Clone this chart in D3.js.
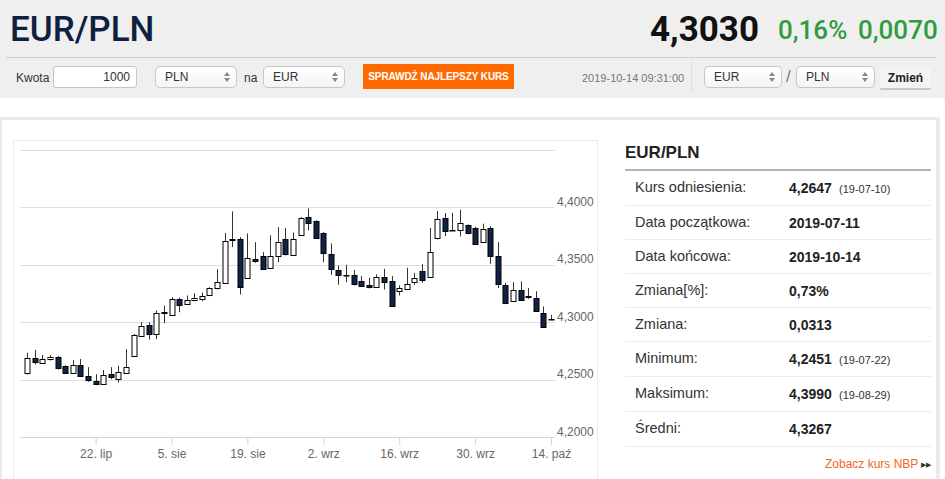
<!DOCTYPE html>
<html>
<head>
<meta charset="utf-8">
<script src="https://cdn.jsdelivr.net/npm/d3@7"></script>
<style>
body { margin: 0; width: 945px; height: 479px; overflow: hidden; background: #fff; position: relative; font-family: Arial, "Liberation Sans", sans-serif; color: #333; }
.abs { position: absolute; }
#head { left: 0; top: 0; width: 945px; height: 98px; background: #efefef; }
#title { left: 10px; top: 9px; font-family: Roboto, sans-serif; font-weight: 500; font-size: 35px; color: #0d213f; }
#rate { left: 650px; top: 9px; font-family: Roboto, sans-serif; font-weight: 700; font-size: 35px; color: #111; }
.chg { top: 15px; font-family: Roboto, sans-serif; font-weight: 500; font-size: 26px; color: #2f9c3d; }
#sep { left: 6px; top: 57px; width: 931px; height: 1px; background: #d0d0d0; }
.lbl { font-size: 12px; color: #333; top: 71px; }
.box { top: 66px; height: 22px; border: 1px solid #c6c6c6; border-radius: 5px; background: linear-gradient(#fff, #f4f4f4); box-sizing: border-box; font-size: 12px; line-height: 20px; padding-left: 9px; color: #333; }
.box .ar { position: absolute; right: 6px; top: 5px; width: 0; height: 0; border-left: 3px solid transparent; border-right: 3px solid transparent; border-bottom: 4px solid #888; }
.box .ar2 { position: absolute; right: 6px; top: 11px; width: 0; height: 0; border-left: 3px solid transparent; border-right: 3px solid transparent; border-top: 4px solid #888; }
#kw { left: 53px; width: 84px; border-radius: 3px; background: #fff; text-align: right; padding-right: 6px; }
#btn { left: 363px; top: 64px; width: 151px; height: 25px; background: #ff6a00; color: #fff; font-weight: bold; font-size: 10px; line-height: 25px; text-align: center; letter-spacing: -0.1px; }
#ts { left: 582px; top: 72px; font-size: 11px; color: #777; }
#vsep { left: 691px; top: 62px; width: 1px; height: 31px; background: #dcdcdc; }
#zm { left: 880px; top: 67px; width: 51px; height: 23px; background: #f4f4f4; border-bottom: 2px solid #c8c8c8; box-sizing: border-box; border-radius: 2px; font-weight: bold; font-size: 12px; line-height: 22px; text-align: center; color: #222; }
#panel { left: 0; top: 117px; width: 940px; height: 380px; border-top: 3px solid #ebebeb; border-left: 2px solid #ebebeb; border-right: 4px solid #ebebeb; box-sizing: border-box; }
#cbox { left: 13px; top: 140px; width: 585px; height: 360px; border: 1px solid #ececec; box-sizing: border-box; }
#th { left: 625px; top: 143px; font-size: 17px; font-weight: bold; color: #222; }
#thr { left: 625px; top: 169px; width: 306px; height: 2px; background: #b4b4b4; }
.row { left: 625px; width: 306px; height: 1px; background: #ececec; }
.tl { left: 635px; font-size: 14.5px; color: #333; }
.tv { left: 789px; font-size: 14px; font-weight: bold; color: #222; }
.td { left: 839px; font-size: 11px; color: #333; }
#nbp { left: 825px; top: 457px; font-size: 12px; color: #f26522; }
svg { position: absolute; left: 0; top: 0; }
</style>
</head>
<body>
<div id="head" class="abs"></div>
<div id="title" class="abs">EUR/PLN</div>
<div id="rate" class="abs">4,3030</div>
<div class="abs chg" style="left:778px">0,16%</div>
<div class="abs chg" style="left:858px">0,0070</div>
<div id="sep" class="abs"></div>

<div class="abs lbl" style="left:16px">Kwota</div>
<div id="kw" class="abs box">1000</div>
<div class="abs box" style="left:155px;width:82px">PLN<span class="ar"></span><span class="ar2"></span></div>
<div class="abs lbl" style="left:244px">na</div>
<div class="abs box" style="left:263px;width:82px">EUR<span class="ar"></span><span class="ar2"></span></div>
<div id="btn" class="abs">SPRAWDŹ NAJLEPSZY KURS</div>
<div id="ts" class="abs">2019-10-14 09:31:00</div>
<div id="vsep" class="abs"></div>
<div class="abs box" style="left:704px;width:78px">EUR<span class="ar"></span><span class="ar2"></span></div>
<div class="abs" style="left:786px;top:67px;font-size:17px;color:#777">/</div>
<div class="abs box" style="left:796px;width:79px">PLN<span class="ar"></span><span class="ar2"></span></div>
<div id="zm" class="abs">Zmień</div>

<div id="panel" class="abs"></div>
<div id="cbox" class="abs"></div>

<div id="th" class="abs">EUR/PLN</div>
<div id="thr" class="abs"></div>
<div id="tbl"></div>
<div id="nbp" class="abs">Zobacz kurs NBP <span style="color:#333;font-size:7px;vertical-align:1px">&#9654;&#9654;</span></div>

<script>
// EUR/PLN daily candles
var dates = ["2019-07-09","2019-07-10","2019-07-11","2019-07-12","2019-07-15","2019-07-16","2019-07-17","2019-07-18","2019-07-19",
  "2019-07-22","2019-07-23","2019-07-24","2019-07-25","2019-07-26","2019-07-29","2019-07-30","2019-07-31",
  "2019-08-01","2019-08-02","2019-08-05","2019-08-06","2019-08-07","2019-08-08","2019-08-09","2019-08-12","2019-08-13",
  "2019-08-14","2019-08-15","2019-08-16","2019-08-19","2019-08-20","2019-08-21","2019-08-22","2019-08-23","2019-08-26",
  "2019-08-27","2019-08-28","2019-08-29","2019-08-30","2019-09-02","2019-09-03","2019-09-04","2019-09-05","2019-09-06",
  "2019-09-09","2019-09-10","2019-09-11","2019-09-12","2019-09-13","2019-09-16","2019-09-17","2019-09-18","2019-09-19",
  "2019-09-20","2019-09-23","2019-09-24","2019-09-25","2019-09-26","2019-09-27","2019-09-30","2019-10-01","2019-10-02",
  "2019-10-03","2019-10-04","2019-10-07","2019-10-08","2019-10-09","2019-10-10","2019-10-11","2019-10-14"];
var opens = [4.2552,4.2686,4.2642,4.2677,4.2698,4.2622,4.2561,4.2631,4.2535,
  4.2488,4.2468,4.2547,4.2506,4.2558,4.2709,4.2884,4.2977,
  4.2898,4.3084,4.3067,4.3206,4.3157,4.3195,4.3201,4.3233,4.3291,
  4.3340,4.3727,4.3727,4.3384,4.3547,4.3581,4.3471,4.3576,4.3724,
  4.3581,4.3762,4.3916,4.3878,4.3773,4.3590,4.3456,4.3413,4.3410,
  4.3363,4.3320,4.3308,4.3395,4.3355,4.3267,4.3294,4.3355,4.3448,
  4.3390,4.3733,4.3910,4.3800,4.3799,4.3843,4.3820,4.3695,4.3823,
  4.3573,4.3328,4.3189,4.3282,4.3227,4.3212,4.3084,4.3026];
var highs = [4.2733,4.2759,4.2715,4.2712,4.2706,4.2625,4.2669,4.2680,4.2608,
  4.2547,4.2584,4.2608,4.2622,4.2765,4.2898,4.3000,4.3000,
  4.3102,4.3145,4.3218,4.3215,4.3233,4.3253,4.3259,4.3305,4.3462,
  4.3776,4.3965,4.3741,4.3773,4.3698,4.3610,4.3756,4.3828,4.3820,
  4.3782,4.3916,4.3990,4.3887,4.3785,4.3686,4.3494,4.3500,4.3456,
  4.3401,4.3387,4.3416,4.3465,4.3401,4.3320,4.3474,4.3430,4.3506,
  4.3820,4.3968,4.3951,4.3953,4.3980,4.3852,4.3831,4.3858,4.3837,
  4.3698,4.3343,4.3349,4.3355,4.3299,4.3270,4.3137,4.3063];
var lows = [4.2544,4.2631,4.2637,4.2666,4.2587,4.2555,4.2555,4.2529,4.2480,
  4.2451,4.2462,4.2503,4.2474,4.2555,4.2706,4.2878,4.2849,
  4.2852,4.2991,4.3061,4.3087,4.3151,4.3186,4.3183,4.3227,4.3285,
  4.3334,4.3654,4.3241,4.3378,4.3517,4.3459,4.3465,4.3523,4.3581,
  4.3576,4.3756,4.3799,4.3727,4.3523,4.3413,4.3326,4.3349,4.3320,
  4.3311,4.3294,4.3302,4.3285,4.3137,4.3233,4.3285,4.3326,4.3343,
  4.3387,4.3721,4.3750,4.3794,4.3747,4.3765,4.3677,4.3689,4.3509,
  4.3297,4.3157,4.3180,4.3189,4.3203,4.3096,4.2956,4.3018];
var closes = [4.2686,4.2651,4.2680,4.2695,4.2599,4.2561,4.2631,4.2535,4.2500,
  4.2459,4.2544,4.2517,4.2570,4.2610,4.2890,4.2968,4.2895,
  4.3084,4.3090,4.3203,4.3151,4.3195,4.3215,4.3224,4.3297,4.3346,
  4.3706,4.3718,4.3305,4.3558,4.3532,4.3465,4.3576,4.3698,4.3596,
  4.3724,4.3910,4.3866,4.3733,4.3602,4.3456,4.3413,4.3410,4.3328,
  4.3317,4.3299,4.3395,4.3355,4.3140,4.3297,4.3337,4.3387,4.3372,
  4.3610,4.3901,4.3799,4.3797,4.3860,4.3770,4.3683,4.3808,4.3576,
  4.3326,4.3169,4.3282,4.3198,4.3215,4.3102,4.2960,4.3030];

var tickDates = ["2019-07-22","2019-08-05","2019-08-19","2019-09-02","2019-09-16","2019-09-30","2019-10-14"];
var tickLabels = ["22. lip","5. sie","19. sie","2. wrz","16. wrz","30. wrz","14. paź"];
var gridValues = [4.20, 4.25, 4.30, 4.35, 4.40, 4.45];
var yLabelValues = [4.20, 4.25, 4.30, 4.35, 4.40];

// side table
var rowLabels = ["Kurs odniesienia:", "Data początkowa:", "Data końcowa:", "Zmiana[%]:", "Zmiana:", "Minimum:", "Maksimum:", "Średni:"];
var rowValues = ["4,2647", "2019-07-11", "2019-10-14", "0,73%", "0,0313", "4,2451", "4,3990", "4,3267"];
var rowDates = ["(19-07-10)", "", "", "", "", "(19-07-22)", "(19-08-29)", ""];

var rowTops = [170, 205, 239, 273, 307, 341, 376, 411];
var tbl = d3.select("#tbl");
rowLabels.forEach(function(l, i) {
    var t = rowTops[i];
    tbl.append("div").attr("class", "abs tl").style("top", (t + 9) + "px").text(l);
    tbl.append("div").attr("class", "abs tv").style("top", (t + 10) + "px").text(rowValues[i]);
    if (rowDates[i]) tbl.append("div").attr("class", "abs td").style("top", (t + 13) + "px").text(rowDates[i]);
    if (i > 0) tbl.append("div").attr("class", "abs row").style("top", t + "px");
});
tbl.append("div").attr("class", "abs row").style("top", "446px");

// chart
var svg = d3.select("body").append("svg")
    .attr("width", 610)
    .attr("height", 479);

var x = d3.scalePoint().domain(dates).range([27.3, 551]);
var y = d3.scaleLinear().domain([4.20, 4.45]).range([437, 150]);

svg.selectAll("line.grid")
    .data(gridValues)
    .enter()
    .append("line")
    .attr("class", "grid")
    .attr("x1", 20)
    .attr("x2", 555)
    .attr("y1", function(d) { return Math.round(y(d)) + 0.5; })
    .attr("y2", function(d) { return Math.round(y(d)) + 0.5; })
    .attr("stroke", "#dedede");

// x axis line, drawn wider than the point range
svg.append("line")
    .attr("x1", 23).attr("x2", 555)
    .attr("y1", 437.5).attr("y2", 437.5)
    .attr("stroke", "#ccd6eb");

var xAxis = svg.append("g")
    .attr("transform", "translate(0,437)")
    .call(d3.axisBottom(x)
        .tickValues(tickDates)
        .tickSize(8)
        .tickPadding(4)
        .tickFormat(function(d, i) { return tickLabels[i]; }));
xAxis.select(".domain").remove();
xAxis.selectAll(".tick line").attr("stroke", "#ccd6eb");
xAxis.selectAll("text")
    .attr("fill", "#666")
    .style("font-family", "Arial, 'Liberation Sans', sans-serif")
    .style("font-size", "12px");

var yAxis = svg.append("g")
    .attr("transform", "translate(557,0)")
    .call(d3.axisRight(y)
        .tickValues(yLabelValues)
        .tickSize(0)
        .tickPadding(0)
        .tickFormat(function(d) { return d.toFixed(4).replace(".", ","); }));
yAxis.select(".domain").remove();
yAxis.selectAll("text")
    .attr("dy", "-2px")
    .attr("fill", "#666")
    .style("font-family", "Arial, 'Liberation Sans', sans-serif")
    .style("font-size", "12px");

// candles
var idx = d3.range(dates.length);
var candle = svg.selectAll("g.candle")
    .data(idx)
    .enter()
    .append("g")
    .attr("class", "candle")
    .attr("transform", function(i) { return "translate(" + Math.round(x(dates[i])) + ",0)"; });

candle.append("line")
    .attr("x1", 0.5).attr("x2", 0.5)
    .attr("y1", function(i) { return y(highs[i]); })
    .attr("y2", function(i) { return y(lows[i]); })
    .attr("stroke", "#333");

candle.append("rect")
    .attr("x", -2)
    .attr("width", 5)
    .attr("y", function(i) { return Math.round(y(Math.max(opens[i], closes[i]))) + 0.5; })
    .attr("height", function(i) {
        return Math.max(0.5, Math.round(Math.abs(y(opens[i]) - y(closes[i]))));
    })
    .attr("fill", function(i) { return closes[i] >= opens[i] ? "#fff" : "#0e2345"; })
    .attr("stroke", "#000")
    .attr("stroke-width", 1);
</script>
</body>
</html>
